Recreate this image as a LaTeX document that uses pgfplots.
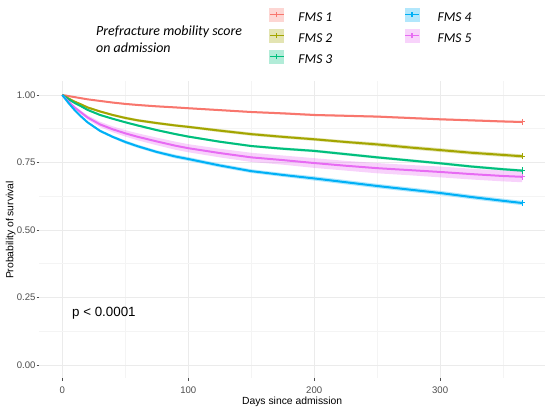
\documentclass[border=0pt]{standalone}
\usepackage{pgfplots}
\pgfplotsset{compat=1.18}
\usepackage{pgfplotstable}
\usepgfplotslibrary{fillbetween}
\usepackage{fontspec}
\setmainfont{Liberation Sans}
\newfontfamily\calib{Carlito}
\definecolor{c1}{HTML}{F8766D}
\definecolor{c2}{HTML}{A3A500}
\definecolor{c3}{HTML}{00BF7D}
\definecolor{c4}{HTML}{00B0F6}
\definecolor{c5}{HTML}{E76BF3}
\definecolor{tickc}{HTML}{4D4D4D}
\definecolor{gridc}{HTML}{EBEBEB}
\definecolor{gridm}{HTML}{F4F4F4}

\pgfplotstableread{
t   s1    w1     s2    w2     s3    w3     s4    w4     s5    w5
0   1     0      1     0      1     0      1     0      1     0
5   0.996 0.001  0.987 0.002  0.984 0.001  0.970 0.002  0.975 0.004
10  0.992 0.001  0.975 0.003  0.970 0.002  0.943 0.003  0.953 0.005
15  0.988 0.002  0.965 0.003  0.958 0.002  0.920 0.004  0.935 0.007
20  0.984 0.002  0.954 0.004  0.945 0.003  0.899 0.004  0.917 0.008
30  0.978 0.002  0.939 0.004  0.926 0.003  0.867 0.005  0.891 0.010
40  0.972 0.002  0.926 0.004  0.912 0.003  0.845 0.005  0.873 0.011
50  0.967 0.003  0.915 0.005  0.899 0.003  0.826 0.006  0.858 0.012
60  0.963 0.003  0.906 0.005  0.887 0.004  0.810 0.006  0.845 0.013
75  0.958 0.003  0.896 0.005  0.870 0.004  0.789 0.006  0.828 0.014
90  0.954 0.003  0.887 0.005  0.855 0.004  0.772 0.007  0.812 0.015
100 0.951 0.003  0.882 0.005  0.846 0.004  0.763 0.007  0.803 0.015
125 0.944 0.003  0.868 0.006  0.827 0.004  0.739 0.007  0.785 0.016
150 0.937 0.003  0.855 0.006  0.811 0.004  0.718 0.007  0.769 0.017
175 0.932 0.004  0.845 0.006  0.801 0.005  0.704 0.007  0.759 0.017
200 0.926 0.004  0.836 0.006  0.793 0.005  0.691 0.008  0.748 0.018
225 0.923 0.004  0.826 0.006  0.781 0.005  0.677 0.008  0.738 0.018
250 0.920 0.004  0.817 0.007  0.769 0.005  0.663 0.008  0.729 0.019
275 0.915 0.004  0.806 0.007  0.758 0.005  0.650 0.008  0.722 0.019
300 0.910 0.004  0.796 0.007  0.747 0.005  0.637 0.008  0.715 0.020
325 0.906 0.004  0.786 0.007  0.735 0.005  0.622 0.008  0.707 0.020
350 0.902 0.004  0.778 0.007  0.725 0.005  0.608 0.008  0.700 0.020
365 0.900 0.004  0.773 0.007  0.720 0.005  0.600 0.008  0.697 0.020
}\km

\begin{document}
\begin{tikzpicture}
\begin{axis}[
  at={(39.3bp,28.5bp)}, anchor=south west,
  width=505.7bp, height=297bp, scale only axis,
  xmin=-18.25, xmax=383.25, ymin=-0.05, ymax=1.05,
  clip=false,
  axis line style={draw=none},
  xtick={0,100,200,300}, xticklabels={0,100,200,300},
  ytick={0,0.25,0.5,0.75,1}, yticklabels={0.00,0.25,0.50,0.75,1.00},
  minor xtick={50,150,250,350},
  minor ytick={0.125,0.375,0.625,0.875},
  grid=both,
  major grid style={gridc, line width=0.9bp},
  minor grid style={gridm, line width=0.6bp},
  tick align=outside, xtick pos=bottom, ytick pos=left,
  major tick length=2.75bp, minor tick length=0pt,
  tick style={tickc, line width=0.7bp},
  ticklabel style={font=\fontsize{9.6}{10}\selectfont, text=tickc},
  xticklabel style={inner sep=0pt, yshift=-5.8bp},
  yticklabel style={xshift=2.5bp},
  xlabel={Days since admission},
  ylabel={Probability of survival},
  label style={font=\fontsize{10.4}{12}\selectfont},
  xlabel style={at={(axis description cs:0.5,-0.0859)}, anchor=base, inner sep=0pt},
  ylabel style={at={(axis description cs:-0.0566,0.5)}, anchor=center},
  legend columns=2,
  legend cell align=left,
  legend style={at={(axis description cs:0.4546,1.249)}, anchor=north west,
    draw=none, fill=none, inner sep=0pt, outer sep=0pt, row sep=5.5bp,
    font=\calib\itshape\fontsize{13.6}{15}\selectfont,
    nodes={inner sep=0pt},
    /tikz/column 1/.append style={column sep=14bp},
    /tikz/column 2/.append style={column sep=72bp},
    /tikz/column 3/.append style={column sep=18bp}},
]
% bands
\addplot[name path=u1, draw=none, forget plot] table[x=t, y expr=\thisrow{s1}+\thisrow{w1}]{\km};
\addplot[name path=l1, draw=none, forget plot] table[x=t, y expr=\thisrow{s1}-\thisrow{w1}]{\km};
\addplot[c1, fill opacity=0.3, draw=none, forget plot] fill between[of=u1 and l1];
\addplot[name path=u2, draw=none, forget plot] table[x=t, y expr=\thisrow{s2}+\thisrow{w2}]{\km};
\addplot[name path=l2, draw=none, forget plot] table[x=t, y expr=\thisrow{s2}-\thisrow{w2}]{\km};
\addplot[c2, fill opacity=0.3, draw=none, forget plot] fill between[of=u2 and l2];
\addplot[name path=u3, draw=none, forget plot] table[x=t, y expr=\thisrow{s3}+\thisrow{w3}]{\km};
\addplot[name path=l3, draw=none, forget plot] table[x=t, y expr=\thisrow{s3}-\thisrow{w3}]{\km};
\addplot[c3, fill opacity=0.3, draw=none, forget plot] fill between[of=u3 and l3];
\addplot[name path=u4, draw=none, forget plot] table[x=t, y expr=\thisrow{s4}+\thisrow{w4}]{\km};
\addplot[name path=l4, draw=none, forget plot] table[x=t, y expr=\thisrow{s4}-\thisrow{w4}]{\km};
\addplot[c4, fill opacity=0.3, draw=none, forget plot] fill between[of=u4 and l4];
\addplot[name path=u5, draw=none, forget plot] table[x=t, y expr=\thisrow{s5}+\thisrow{w5}]{\km};
\addplot[name path=l5, draw=none, forget plot] table[x=t, y expr=\thisrow{s5}-\thisrow{w5}]{\km};
\addplot[c5, fill opacity=0.3, draw=none, forget plot] fill between[of=u5 and l5];
% lines
\pgfplotsset{kmline/.style={line width=2bp, mark=+, mark indices={23}, mark size=3.2bp, mark options={line width=1bp, solid}, forget plot}}
\addplot[c1, kmline] table[x=t, y=s1]{\km};
\addplot[c2, kmline] table[x=t, y=s2]{\km};
\addplot[c3, kmline] table[x=t, y=s3]{\km};
\addplot[c5, kmline] table[x=t, y=s5]{\km};
\addplot[c4, kmline] table[x=t, y=s4]{\km};
% legend
\pgfplotsset{fmskey/.style={legend image code/.code={\path[fill=#1!30!white, draw=none](0bp,-3.5bp) rectangle (15bp,10.5bp); \path[draw=#1, line width=1.3bp](0.5bp,3.5bp)--(14.5bp,3.5bp) (7.5bp,1bp)--(7.5bp,6bp);}}}
\addlegendimage{fmskey=c1}
\addlegendentry{FMS 1}
\addlegendimage{fmskey=c4}
\addlegendentry{FMS 4}
\addlegendimage{fmskey=c2}
\addlegendentry{FMS 2}
\addlegendimage{fmskey=c5}
\addlegendentry{FMS 5}
\addlegendimage{fmskey=c3}
\addlegendentry{FMS 3}
\node[anchor=west, font=\fontsize{13.4}{15}\selectfont, inner sep=0pt] at (axis cs:7.7,0.19) {p < 0.0001};
\node[anchor=west, align=left, inner sep=0pt, font=\calib\itshape\fontsize{14}{17}\selectfont] at (axis description cs:0.1121,1.1414) {Prefracture mobility score\\on admission};
\end{axis}
\pgfresetboundingbox
\path[use as bounding box] (0,0) rectangle (550bp,407bp);
\end{tikzpicture}
\end{document}
